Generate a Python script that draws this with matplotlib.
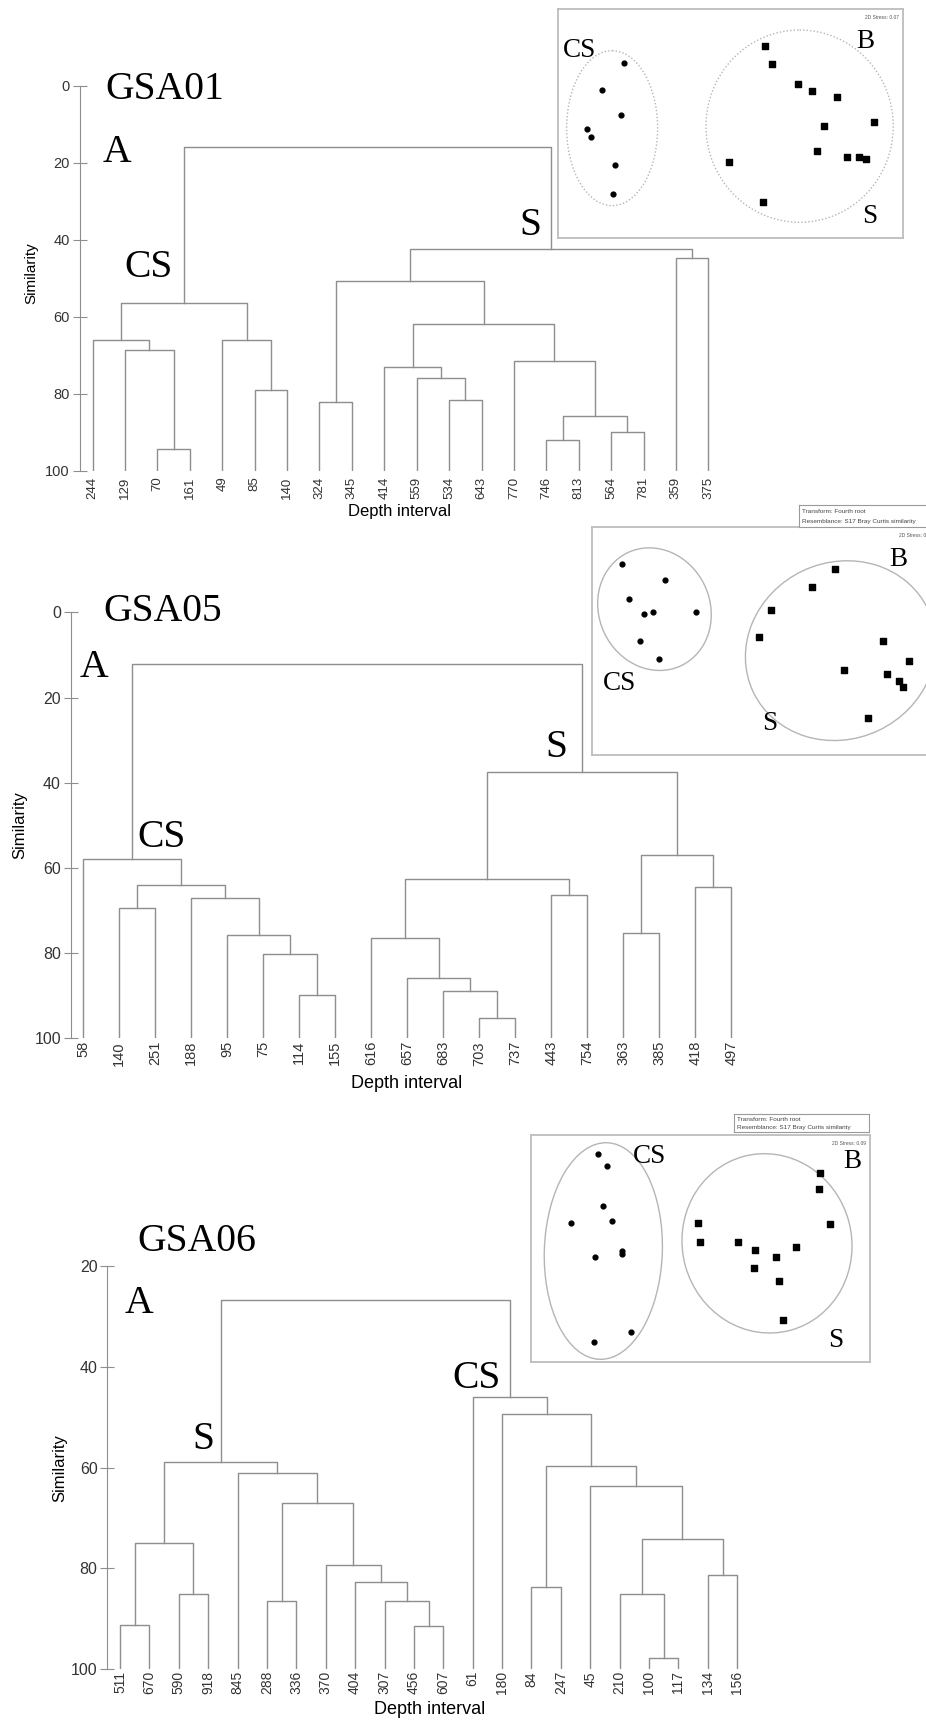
import matplotlib
matplotlib.use("Agg")
import matplotlib.pyplot as plt
from matplotlib.patches import Ellipse

W_PX, H_PX = 926, 1720
LINE = "#8e8e8e"
SANS = "Liberation Sans"
SERIF = "Liberation Serif"

# --------------------------------------------------------------------------------------------
# Data
# --------------------------------------------------------------------------------------------

# dendrograms: leaf order, then merges (child a, child b, similarity); ids >= n are earlier merges
gsa01_leaves = ["244", "129", "70", "161", "49", "85", "140", "324", "345", "414",
                "559", "534", "643", "770", "746", "813", "564", "781", "359", "375"]
gsa01_links = [(2, 3, 94.2), (1, 20, 68.5), (0, 21, 66.0), (5, 6, 78.9), (4, 23, 65.9),
               (22, 24, 56.4), (7, 8, 82.1), (11, 12, 81.6), (10, 27, 75.8), (9, 28, 73.0),
               (14, 15, 92.0), (16, 17, 90.0), (30, 31, 85.7), (13, 32, 71.5), (29, 33, 61.9),
               (26, 34, 50.6), (18, 19, 44.6), (35, 36, 42.5), (25, 37, 15.8)]

gsa05_leaves = ["58", "140", "251", "188", "95", "75", "114", "155", "616", "657",
                "683", "703", "737", "443", "754", "363", "385", "418", "497"]
gsa05_links = [(6, 7, 89.8), (5, 19, 80.1), (4, 20, 75.8), (3, 21, 67.0), (1, 2, 69.5),
               (23, 22, 63.9), (0, 24, 57.9), (11, 12, 95.3), (10, 26, 88.8), (9, 27, 85.8),
               (8, 28, 76.5), (13, 14, 66.4), (29, 30, 62.7), (15, 16, 75.2), (17, 18, 64.6),
               (32, 33, 57.0), (31, 34, 37.6), (25, 35, 12.2)]

gsa06_leaves = ["511", "670", "590", "918", "845", "288", "336", "370", "404", "307", "456",
                "607", "61", "180", "84", "247", "45", "210", "100", "117", "134", "156"]
gsa06_links = [(0, 1, 91.2), (2, 3, 85.1), (22, 23, 74.9), (10, 11, 91.4), (9, 25, 86.6),
               (8, 26, 82.7), (7, 27, 79.3), (5, 6, 86.6), (29, 28, 67.0), (4, 30, 61.1),
               (24, 31, 58.9), (18, 19, 97.9), (17, 33, 85.1), (20, 21, 81.4), (34, 35, 74.1),
               (16, 36, 63.7), (14, 15, 83.8), (38, 37, 59.7), (13, 39, 49.4), (12, 40, 46.1),
               (32, 41, 26.7)]

# MDS ordinations (arbitrary units, y downwards)
gsa01_cs_x = [197, 130, 189, 86, 99, 170, 164]
gsa01_cs_y = [161, 242, 319, 360, 383, 468, 556]
gsa01_s_x = [621, 641, 718, 762, 835, 948, 798, 777, 866, 902, 922, 511, 614]
gsa01_s_y = [112, 166, 225, 247, 263, 339, 350, 425, 444, 444, 450, 459, 580]

gsa05_cs_x = [88, 218, 111, 156, 181, 310, 142, 201]
gsa05_cs_y = [110, 158, 214, 259, 253, 255, 341, 394]
gsa05_s_x = [728, 658, 537, 499, 873, 949, 755, 883, 921, 933, 826]
gsa05_s_y = [125, 178, 249, 328, 340, 400, 428, 441, 460, 480, 571]

gsa06_cs_x = [202, 227, 217, 121, 244, 272, 272, 191, 299, 188]
gsa06_cs_y = [57, 93, 214, 263, 259, 348, 357, 366, 592, 622]
gsa06_s_x = [867, 864, 897, 501, 508, 622, 673, 735, 795, 668, 745, 757]
gsa06_s_y = [114, 163, 266, 265, 320, 321, 346, 365, 337, 399, 438, 555]

stress = ["2D Stress: 0.07", "2D Stress: 0.08", "2D Stress: 0.09"]


def rect(x0, y0, x1, y1):
    return [x0 / W_PX, 1 - y1 / H_PX, (x1 - x0) / W_PX, (y1 - y0) / H_PX]


def ftext(x, y, s, size=28.5, **kw):
    fig.text(x / W_PX, 1 - y / H_PX, s, fontsize=size, family=SERIF, va="baseline", **kw)


def dendrogram(ax, leaves, links):
    n = len(leaves)
    pos = {i: (float(i), 100.0) for i in range(n)}
    for k, (a, b, h) in enumerate(links):
        xa, ha = pos[a]
        xb, hb = pos[b]
        ax.plot([xa, xa, xb, xb], [ha, h, h, hb], color=LINE, lw=1.0)
        pos[n + k] = ((xa + xb) / 2, h)


def tree_axes(box, xlim, ylim, leaves, links, yticks, ylab_px, xlab_px, tsize, lsize, lpad):
    x0, y0, x1, y1 = box
    ax = fig.add_axes(rect(x0, y0, x1, y1))
    dendrogram(ax, leaves, links)
    ax.set_xlim(*xlim)
    ax.set_ylim(*ylim)
    for s in ["top", "right", "bottom"]:
        ax.spines[s].set_visible(False)
    ax.spines["left"].set_color(LINE)
    ax.set_yticks(yticks)
    ax.set_yticklabels([str(t) for t in yticks], family=SANS, fontsize=tsize, color="#333333")
    ax.tick_params(axis="y", direction="inout", length=10, color=LINE, pad=2)
    ax.set_xticks(range(len(leaves)))
    ax.set_xticklabels(leaves, rotation=90, family=SANS, fontsize=lsize, color="#333333")
    ax.tick_params(axis="x", length=0, pad=lpad)
    ax.set_ylabel("Similarity", family=SANS, fontsize=tsize + 0.5)
    ax.set_xlabel("Depth interval", family=SANS, fontsize=tsize + 1.5)
    ax.yaxis.set_label_coords((ylab_px[0] - x0) / (x1 - x0), (y1 - ylab_px[1]) / (y1 - y0))
    ax.xaxis.set_label_coords((xlab_px[0] - x0) / (x1 - x0), (y1 - xlab_px[1]) / (y1 - y0))
    ax.xaxis.label.set_va("center")
    ax.yaxis.label.set_va("center")
    return ax


def mds_axes(box, size, cs_x, cs_y, s_x, s_y, cs_ell, s_ell, labels, stress_txt, ls):
    x0, y0, w, h = box
    ax = fig.add_axes(rect(x0, y0, x0 + w, y0 + h))
    ax.set_xlim(0, size[0])
    ax.set_ylim(size[1], 0)
    ax.set_xticks([])
    ax.set_yticks([])
    for s in ax.spines.values():
        s.set_color("#bdbdbd")
        s.set_linewidth(1.3)
    for (cx, cy, ew, eh, ang) in [cs_ell, s_ell]:
        ax.add_patch(Ellipse((cx, cy), ew, eh, angle=ang, fill=False,
                             ec="#b5b5b5", lw=1.0, ls=ls))
    ax.scatter(cs_x, cs_y, marker="o", s=12, color="black", zorder=3)
    ax.scatter(s_x, s_y, marker="s", s=16, color="black", zorder=3)
    for (tx, ty, t) in labels:
        ax.text(tx, ty, t, family=SERIF, fontsize=19.5, va="baseline")
    ax.text(size[0] - 12, 30, stress_txt, family=SANS, fontsize=3.5, color="#555555",
            ha="right", va="baseline")
    return ax


def legend_box(x0, y0, x1, y1):
    ax = fig.add_axes(rect(x0, y0, x1, y1))
    ax.set_xticks([])
    ax.set_yticks([])
    for s in ax.spines.values():
        s.set_color("#9a9a9a")
        s.set_linewidth(0.8)
    ax.text(0.02, 0.72, "Transform: Fourth root", transform=ax.transAxes,
            family=SANS, fontsize=4.6, color="#444444", va="center")
    ax.text(0.02, 0.27, "Resemblance: S17 Bray Curtis similarity", transform=ax.transAxes,
            family=SANS, fontsize=4.6, color="#444444", va="center")


if __name__ == "__main__":

    fig = plt.figure(figsize=(W_PX / 100, H_PX / 100), dpi=100)

    # --------------------------------------------------------------------------------------------
    # Dendrograms
    # --------------------------------------------------------------------------------------------

    tree_axes((79.7, 85.7, 721.3, 471.0), (-0.4, 19.4), (100, 0), gsa01_leaves, gsa01_links,
              [0, 20, 40, 60, 80, 100], (31, 273), (400, 511.7), 10.5, 9.5, 4)
    tree_axes((70.7, 612.3, 743.9, 1038.3), (-0.35, 18.35), (100, 0), gsa05_leaves, gsa05_links,
              [0, 20, 40, 60, 80, 100], (19.5, 825), (407, 1083), 11.5, 10.5, 2)
    tree_axes((107.3, 1266.0, 749.9, 1669.0), (-0.43, 21.43), (100, 20), gsa06_leaves, gsa06_links,
              [20, 40, 60, 80, 100], (60, 1468), (430, 1709), 11.5, 10, 1.5)

    ftext(105, 99.3, "GSA01")
    ftext(103, 162, "A")
    ftext(124, 277, "CS")
    ftext(519, 235, "S")

    ftext(103, 621, "GSA05")
    ftext(80, 677, "A")
    ftext(137, 847, "CS")
    ftext(545, 757, "S")

    ftext(137, 1251, "GSA06")
    ftext(125, 1313, "A")
    ftext(192, 1449, "S")
    ftext(452.7, 1388, "CS")

    # --------------------------------------------------------------------------------------------
    # MDS insets
    # --------------------------------------------------------------------------------------------

    mds_axes((558.3, 9, 345, 229.3), (1035, 688), gsa01_cs_x, gsa01_cs_y, gsa01_s_x, gsa01_s_y,
             (161.5, 357.5, 273, 465, 0), (724, 351.5, 562, 577, 0),
             [(15, 143, "CS"), (895, 116, "B"), (910, 643, "S")], stress[0], (0, (1, 1.5)))
    mds_axes((592.3, 527.3, 345, 227.7), (1035, 683), gsa05_cs_x, gsa05_cs_y, gsa05_s_x, gsa05_s_y,
             (186.5, 245.5, 333, 375, -25), (745, 370, 580, 530, -25),
             [(890, 115, "B"), (33, 488, "CS"), (508, 608, "S")], stress[1], "-")
    mds_axes((531, 1135, 339, 226.7), (1017, 680), gsa06_cs_x, gsa06_cs_y, gsa06_s_x, gsa06_s_y,
             (217, 348, 354, 650, 2), (708, 325, 508, 540, -15),
             [(307, 83, "CS"), (937, 98, "B"), (892, 635, "S")], stress[2], "-")

    legend_box(799, 505, 934, 527)
    legend_box(734.3, 1114.3, 869.3, 1132.3)

    fig.savefig("out.png", dpi=100)
